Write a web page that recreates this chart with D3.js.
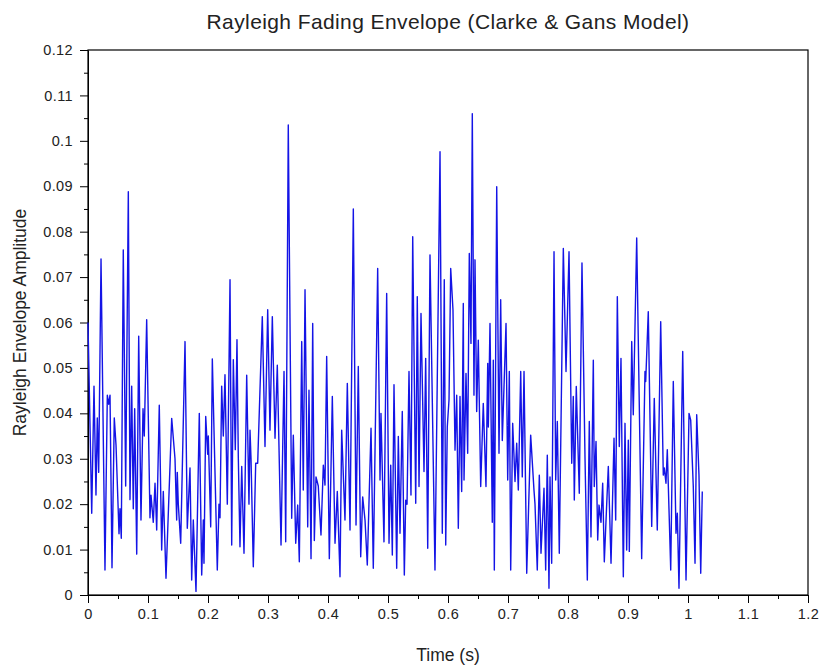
<!DOCTYPE html>
<html>
<head>
<meta charset="utf-8">
<script src="https://cdn.jsdelivr.net/npm/d3@7"></script>
<style>
  body { margin: 0; background: #fff; }
  svg text { font-family: "Liberation Sans", Arial, Helvetica, sans-serif; fill: #222; }
</style>
</head>
<body>
<div id="chart"></div>
<script>
// time (s) and envelope values (peaks and troughs)
const timeS = [
  0.0000,0.0062,0.0100,0.0133,0.0155,0.0178,0.0217,0.0283,0.0322,0.0345,0.0367,0.0400,0.0438,0.0467,0.0517,0.0533,0.0555,0.0588,0.0628,0.0672,0.0700,0.0728,0.0755,0.0778,0.0812,0.0845,0.0883,0.0917,0.0938,0.0978,0.1033,0.1050,0.1088,0.1117,0.1145,0.1188,
  0.1228,0.1255,0.1300,0.1395,0.1450,0.1478,0.1488,0.1505,0.1545,0.1617,0.1655,0.1700,0.1728,0.1755,0.1800,0.1855,0.1895,0.1922,0.1933,0.1962,0.1995,0.2005,0.2045,0.2072,0.2155,0.2183,0.2200,0.2228,0.2255,0.2283,0.2322,0.2367,0.2395,0.2422,0.2455,0.2483,
  0.2505,0.2533,0.2562,0.2600,0.2645,0.2683,0.2700,0.2717,0.2755,0.2795,0.2828,0.2905,0.2950,0.2995,0.3033,0.3072,0.3117,0.3155,0.3217,0.3267,0.3295,0.3338,0.3395,0.3422,0.3462,0.3495,0.3522,0.3562,0.3588,0.3617,0.3662,0.3683,0.3717,0.3745,
  0.3772,0.3800,0.3838,0.3883,0.3922,0.3950,0.3978,0.4022,0.4072,0.4117,0.4155,0.4200,0.4228,0.4283,0.4322,0.4367,0.4422,0.4467,0.4505,0.4545,0.4578,0.4617,0.4655,0.4717,0.4755,0.4828,0.4867,0.4883,0.4933,0.4978,0.5017,
  0.5045,0.5072,0.5100,0.5145,0.5172,0.5200,0.5238,0.5272,0.5295,0.5317,0.5350,0.5383,0.5412,0.5462,0.5488,0.5517,0.5550,0.5600,0.5628,0.5662,0.5700,0.5783,0.5867,0.5905,0.5938,0.5962,0.5988,0.6017,0.6045,0.6083,0.6117,0.6145,0.6172,0.6200,0.6228,0.6255,
  0.6267,0.6300,0.6328,0.6355,0.6383,0.6405,0.6433,0.6450,0.6478,0.6505,0.6545,0.6588,0.6633,0.6662,0.6672,0.6700,0.6738,0.6755,0.6772,0.6812,0.6850,0.6878,0.6905,0.6967,0.6995,0.7022,0.7045,0.7078,0.7117,0.7145,0.7172,0.7212,0.7238,0.7267,0.7312,0.7378,0.7433,0.7450,0.7488,0.7522,
  0.7550,0.7600,0.7628,0.7655,0.7683,0.7700,0.7728,0.7767,0.7795,0.7822,0.7855,0.7922,0.7967,0.8017,0.8062,0.8088,0.8105,0.8138,0.8188,0.8233,0.8283,0.8322,0.8355,0.8383,0.8422,0.8438,0.8467,0.8495,0.8517,0.8550,0.8578,0.8605,0.8645,0.8672,0.8717,
  0.8767,0.8795,0.8822,0.8855,0.8883,0.8922,0.8950,0.8978,0.9005,0.9022,0.9062,0.9088,0.9145,0.9228,0.9283,0.9295,0.9338,0.9395,0.9438,0.9488,0.9545,0.9588,0.9605,0.9633,0.9655,0.9712,0.9755,0.9800,0.9822,0.9850,0.9912,0.9967,1.0017,1.0045,1.0088,1.0117,1.0145,1.0183,1.0212,1.0238
];
const envelope = [
  0.060,0.018,0.046,0.022,0.039,0.027,0.074,0.0055,0.044,0.042,0.044,0.006,0.039,0.033,0.0135,0.019,0.0125,0.076,0.024,0.0888,0.021,0.046,0.019,0.041,0.009,0.057,0.0165,0.041,0.035,0.0606,0.017,0.022,0.016,0.0246,0.0143,0.0418,
  0.0099,0.0228,0.0037,0.0389,0.030,0.0165,0.027,0.020,0.0114,0.0558,0.0147,0.028,0.0033,0.0165,0.0008,0.040,0.0044,0.0165,0.007,0.0393,0.031,0.035,0.015,0.052,0.0055,0.020,0.017,0.046,0.035,0.0485,0.020,0.0694,0.011,0.0518,0.032,0.0562,
  0.0305,0.0106,0.0283,0.0092,0.0484,0.020,0.0363,0.030,0.0062,0.029,0.029,0.0613,0.0327,0.0628,0.0363,0.0613,0.0345,0.0506,0.011,0.0492,0.0117,0.1035,0.0169,0.0352,0.0114,0.0198,0.0073,0.0558,0.0231,0.0672,0.015,0.0451,0.008,0.0598,
  0.012,0.026,0.024,0.0132,0.0286,0.0242,0.0525,0.008,0.0437,0.0114,0.0228,0.004,0.0363,0.0165,0.0466,0.0143,0.085,0.0154,0.0503,0.0084,0.0216,0.0165,0.0066,0.0367,0.0059,0.0719,0.0253,0.040,0.0117,0.0664,0.0114,
  0.0286,0.0088,0.0463,0.0059,0.0349,0.0136,0.0404,0.0044,0.0209,0.020,0.0492,0.022,0.0789,0.0202,0.0657,0.0239,0.062,0.0272,0.0521,0.0103,0.0749,0.0055,0.0976,0.0136,0.0694,0.011,0.037,0.043,0.0719,0.0628,0.0319,0.044,0.0147,0.0437,0.0228,0.0642,
  0.0253,0.0488,0.0312,0.0752,0.0554,0.106,0.044,0.0738,0.0404,0.0561,0.0239,0.0422,0.0239,0.051,0.037,0.0598,0.016,0.0517,0.0055,0.0899,0.0312,0.065,0.034,0.0598,0.0253,0.0492,0.0055,0.0378,0.025,0.0334,0.0231,0.0492,0.026,0.0492,0.0048,0.0352,0.0231,0.020,0.0055,0.0264,
  0.0092,0.0235,0.0055,0.0308,0.0015,0.026,0.007,0.0756,0.0253,0.0382,0.0092,0.0763,0.0492,0.0756,0.029,0.0437,0.0209,0.0459,0.0224,0.0731,0.0305,0.0033,0.0382,0.0128,0.0517,0.0239,0.0338,0.0121,0.0198,0.016,0.0246,0.0073,0.020,0.0283,0.007,
  0.0345,0.0165,0.0657,0.0327,0.0521,0.004,0.0378,0.0099,0.0341,0.0096,0.0558,0.0397,0.0786,0.008,0.0492,0.047,0.0624,0.0151,0.0433,0.0143,0.0602,0.0264,0.028,0.0246,0.032,0.0055,0.047,0.0136,0.018,0.0015,0.0536,0.0033,0.040,0.0385,0.0239,0.007,0.0397,0.0264,0.0048,0.0228
];

const xTicks = [0, 0.1, 0.2, 0.3, 0.4, 0.5, 0.6, 0.7, 0.8, 0.9, 1, 1.1, 1.2];
const yTicks = [0, 0.01, 0.02, 0.03, 0.04, 0.05, 0.06, 0.07, 0.08, 0.09, 0.1, 0.11, 0.12];
const xMinor = [0.05, 0.15, 0.25, 0.35, 0.45, 0.55, 0.65, 0.75, 0.85, 0.95, 1.05, 1.15];
const yMinor = [0.005, 0.015, 0.025, 0.035, 0.045, 0.055, 0.065, 0.075, 0.085, 0.095, 0.105, 0.115];

const W = 822, H = 668;
const margin = { top: 50, right: 14, bottom: 73, left: 88 };
const width = W - margin.left - margin.right;
const height = H - margin.top - margin.bottom;

const svg = d3.select('#chart').append('svg')
    .attr('width', W)
    .attr('height', H);

const g = svg.append('g')
    .attr('transform', `translate(${margin.left},${margin.top})`);

const x = d3.scaleLinear().domain([0, 1.2]).range([0, width]);
const y = d3.scaleLinear().domain([0, 0.12]).range([height, 0]);

const fmt = d => String(+d.toFixed(3));

// minor ticks first so the major axis sits on top
g.append('g')
    .attr('transform', `translate(0,${height})`)
    .call(d3.axisBottom(x).tickValues(xMinor).tickSize(4).tickFormat(''))
    .call(a => a.select('.domain').remove());
g.append('g')
    .call(d3.axisLeft(y).tickValues(yMinor).tickSize(4).tickFormat(''))
    .call(a => a.select('.domain').remove());

const xAxis = g.append('g')
    .attr('transform', `translate(0,${height})`)
    .call(d3.axisBottom(x).tickValues(xTicks).tickSize(8).tickSizeOuter(0).tickPadding(6).tickFormat(fmt));
const yAxis = g.append('g')
    .call(d3.axisLeft(y).tickValues(yTicks).tickSize(8).tickSizeOuter(0).tickPadding(7).tickFormat(fmt));

[xAxis, yAxis].forEach(a => {
    a.selectAll('text')
        .attr('font-size', '14.5px')
        .style('letter-spacing', '0.4px')
        .attr('fill', '#333');
    a.selectAll('line, path').attr('stroke', '#000');
});

// frame
g.append('rect')
    .attr('x', 0).attr('y', 0)
    .attr('width', width).attr('height', height)
    .attr('fill', 'none')
    .attr('stroke', '#000')
    .attr('stroke-width', 1.2);

const line = d3.line()
    .x((d, i) => x(timeS[i]))
    .y(d => y(d));

g.append('path')
    .datum(envelope)
    .attr('fill', 'none')
    .attr('stroke', '#1414e6')
    .attr('stroke-width', 1.4)
    .attr('stroke-linejoin', 'round')
    .attr('d', line);

svg.append('text')
    .attr('x', margin.left + width / 2)
    .attr('y', 29)
    .attr('text-anchor', 'middle')
    .attr('font-size', '21px')
    .style('letter-spacing', '0.4px')
    .text('Rayleigh Fading Envelope (Clarke & Gans Model)');

svg.append('text')
    .attr('x', margin.left + width / 2)
    .attr('y', 661)
    .attr('text-anchor', 'middle')
    .attr('font-size', '17.5px')
    .text('Time (s)');

svg.append('text')
    .attr('transform', `translate(26,${margin.top + height / 2}) rotate(-90)`)
    .attr('text-anchor', 'middle')
    .attr('font-size', '17.5px')
    .text('Rayleigh Envelope Amplitude');
</script>
</body>
</html>
